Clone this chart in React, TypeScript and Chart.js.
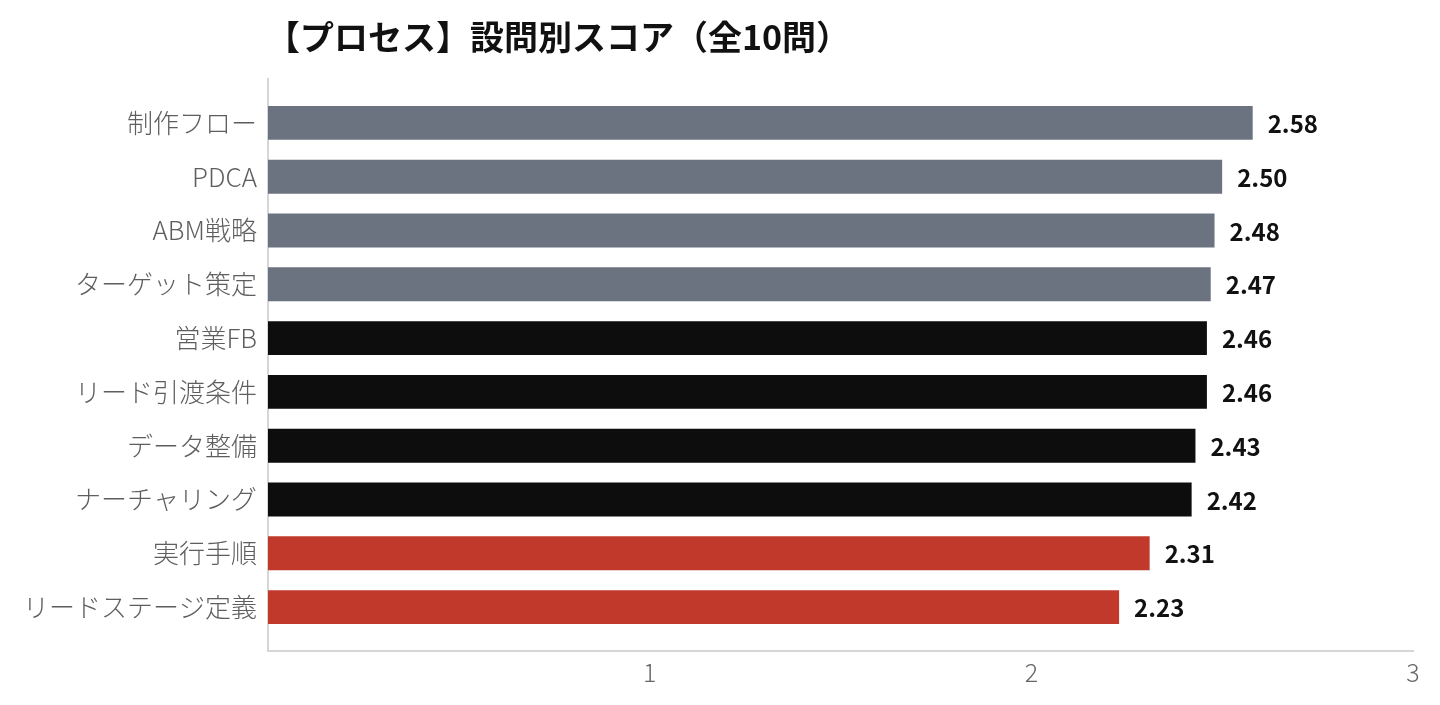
import { useEffect, useRef } from "react";
import { Chart, registerables } from "chart.js";
import type { ChartConfiguration, Plugin } from "chart.js";

Chart.register(...registerables);

const TITLE = "【プロセス】設問別スコア（全10問）";

const categories = [
  "制作フロー",
  "PDCA",
  "ABM戦略",
  "ターゲット策定",
  "営業FB",
  "リード引渡条件",
  "データ整備",
  "ナーチャリング",
  "実行手順",
  "リードステージ定義",
];
const scores = [2.58, 2.5, 2.48, 2.47, 2.46, 2.46, 2.43, 2.42, 2.31, 2.23];
// colour group per bar: 0 = gray, 1 = black, 2 = red
const groups = [0, 0, 0, 0, 1, 1, 1, 1, 2, 2];
const groupColors = ["#6b7280", "#0d0d0d", "#c0392b"];
const xTicks = [1, 2, 3];

const FONT = "'Noto Sans CJK JP', 'Noto Sans', sans-serif";

const valueLabels: Plugin<"bar"> = {
  id: "valueLabels",
  afterDatasetsDraw(chart) {
    const { ctx } = chart;
    const meta = chart.getDatasetMeta(0);
    ctx.save();
    ctx.font = `bold 24px ${FONT}`;
    ctx.fillStyle = "#111";
    ctx.textAlign = "left";
    ctx.textBaseline = "middle";
    meta.data.forEach((bar, i) => {
      ctx.fillText(scores[i].toFixed(2), bar.x + 15, bar.y + 1);
    });
    ctx.restore();
  },
};

const titlePlugin: Plugin<"bar"> = {
  id: "titleAtArea",
  afterDraw(chart) {
    const { ctx, chartArea } = chart;
    ctx.save();
    ctx.font = `bold 34px ${FONT}`;
    ctx.fillStyle = "#111";
    ctx.textAlign = "left";
    ctx.textBaseline = "middle";
    ctx.fillText(TITLE, chartArea.left - 2, 37);
    ctx.restore();
  },
};

export default function App() {
  const canvasRef = useRef<HTMLCanvasElement | null>(null);
  const chartRef = useRef<Chart<"bar"> | null>(null);

  useEffect(() => {
    document.body.style.margin = "0";
    if (!canvasRef.current) return;
    chartRef.current?.destroy();

    const config: ChartConfiguration<"bar"> = {
      type: "bar",
      data: {
        datasets: [
          {
            data: scores.map((v, i) => ({ x: v, y: i })) as any,
            backgroundColor: groups.map((g) => groupColors[g]),
            borderWidth: 0,
            barPercentage: 0.63,
            categoryPercentage: 1,
          },
        ],
      },
      options: {
        indexAxis: "y",
        animation: false,
        responsive: true,
        maintainAspectRatio: false,
        layout: { padding: { top: 79, right: 27, bottom: 0, left: 0 } },
        plugins: {
          legend: { display: false },
          tooltip: { enabled: false },
          title: { display: false },
        },
        scales: {
          x: {
            type: "linear",
            min: 0,
            max: 3,
            offset: false,
            grid: { display: false, drawTicks: false, offset: false },
            border: { display: true, color: "#d6d6d6", width: 2 },
            afterBuildTicks: (axis) => {
              axis.ticks = xTicks.map((v) => ({ value: v }));
            },
            afterFit: (axis) => {
              axis.height = 54;
            },
            ticks: {
              color: "#666",
              padding: 6,
              font: { family: FONT, size: 25, weight: 300 },
            },
          },
          y: {
            type: "linear",
            reverse: true,
            min: -0.816,
            max: categories.length - 1 + 0.816,
            offset: false,
            grid: { display: false, drawTicks: false, offset: false },
            border: { display: true, color: "#d6d6d6", width: 2 },
            afterBuildTicks: (axis) => {
              axis.ticks = categories.map((_, i) => ({ value: i }));
            },
            afterFit: (axis) => {
              axis.width = 268;
            },
            ticks: {
              color: "#5e5e5e",
              padding: 11,
              autoSkip: false,
              font: { family: FONT, size: 26, weight: 300 },
              callback: (v) => categories[Number(v)] ?? "",
            },
          },
        },
      },
      plugins: [valueLabels, titlePlugin],
    };

    chartRef.current = new Chart(canvasRef.current, config);
    return () => chartRef.current?.destroy();
  }, []);

  return (
    <div style={{ position: "relative", width: 1440, height: 705, background: "#fff" }}>
      <canvas ref={canvasRef} />
    </div>
  );
}
